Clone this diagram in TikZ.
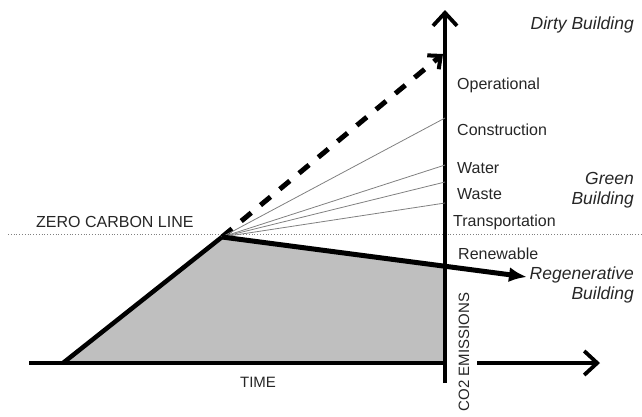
\documentclass[tikz,border=0pt]{standalone}
\usepackage{fontspec}
\setmainfont{Liberation Sans}
\usetikzlibrary{arrows.meta}

\begin{document}
\begin{tikzpicture}[x=1pt, y=-1pt]
        % Setup the styles for the labels and lines
        \tikzset{label style/.style={inner sep=0pt,
                                     text=black!85,
                                     font=\fontsize{16}{19}\selectfont},
                 side style/.style={inner sep=0pt,
                                    text=black!85,
                                    align=right,
                                    font=\fontsize{17.5}{20}\selectfont\itshape},
                 axis style/.style={line width=4.5pt,
                                    -{Straight Barb[length=13pt, width=24pt, line width=3.8pt]}},
                 share style/.style={draw=gray, line width=0.8pt}}

        \useasboundingbox (0,0) rectangle (642,416);

        % Place the points
        \coordinate (start)    at (63,363);
        \coordinate (peak)     at (222,237);
        \coordinate (origin)   at (445,363);
        \coordinate (cross)    at (445,266);
        \coordinate (timeleft) at (29,363);
        \coordinate (timegap)  at (477,363);
        \coordinate (timeend)  at (600,363);
        \coordinate (co2low)   at (445,383);
        \coordinate (co2top)   at (445,10);
        \coordinate (dirty)    at (443,54);
        \coordinate (constr)   at (445,118);
        \coordinate (water)    at (445,165);
        \coordinate (waste)    at (445,182);
        \coordinate (transp)   at (445,203);
        \coordinate (regen)    at (527,277);
        \coordinate (zeroleft) at (8,234);
        \coordinate (zeroright) at (642,234);

        % Draw the shaded area
        \fill[gray!50] (start) -- (peak) -- (cross) -- (origin) -- cycle;

        % Draw the zero carbon line
        \draw[gray, line width=0.8pt, dotted] (zeroleft) -- (zeroright);

        % Draw the axes
        \draw[line width=4.5pt] (timeleft) -- (origin);
        \draw[axis style] (timegap) -- (timeend);
        \draw[axis style] (co2low) -- (co2top);

        % Draw the building lines
        \draw[line width=4.5pt] (start) -- (peak);
        \draw[line width=5pt, dash pattern=on 13pt off 12pt,
              -{Straight Barb[length=10pt, width=18pt, line width=4pt]}] (peak) -- (dirty);
        \draw[share style] (peak) -- (constr);
        \draw[share style] (peak) -- (water);
        \draw[share style] (peak) -- (waste);
        \draw[share style] (peak) -- (transp);
        \draw[line width=5pt, -{Latex[length=18pt, width=15pt]}] (peak) -- (regen);

        % Draw the labels
        \node[label style, anchor=west] at (457,85)  (operational) {Operational};
        \node[label style, anchor=west] at (457,130) (construction) {Construction};
        \node[label style, anchor=west] at (457,168) (waterlbl) {Water};
        \node[label style, anchor=west] at (457,194) (wastelbl) {Waste};
        \node[label style, anchor=west] at (453,222) (transportation) {Transportation};
        \node[label style, anchor=west] at (458,254) (renewable) {Renewable};
        \node[label style, anchor=west] at (36,222)  (zerolbl) {ZERO CARBON LINE};
        \node[label style, font=\fontsize{15}{18}\selectfont] at (258,382) (time) {TIME};
        \node[label style, font=\fontsize{15}{18}\selectfont, rotate=90] at (464,352) (emissions) {CO2 EMISSIONS};

        \node[side style, anchor=east] at (634,25)  (dirtylbl) {Dirty Building};
        \node[side style, anchor=east] at (634,190) (greenlbl) {Green\\Building};
        \node[side style, anchor=east] at (634,285) (regenlbl) {Regenerative\\Building};
\end{tikzpicture}
\end{document}
